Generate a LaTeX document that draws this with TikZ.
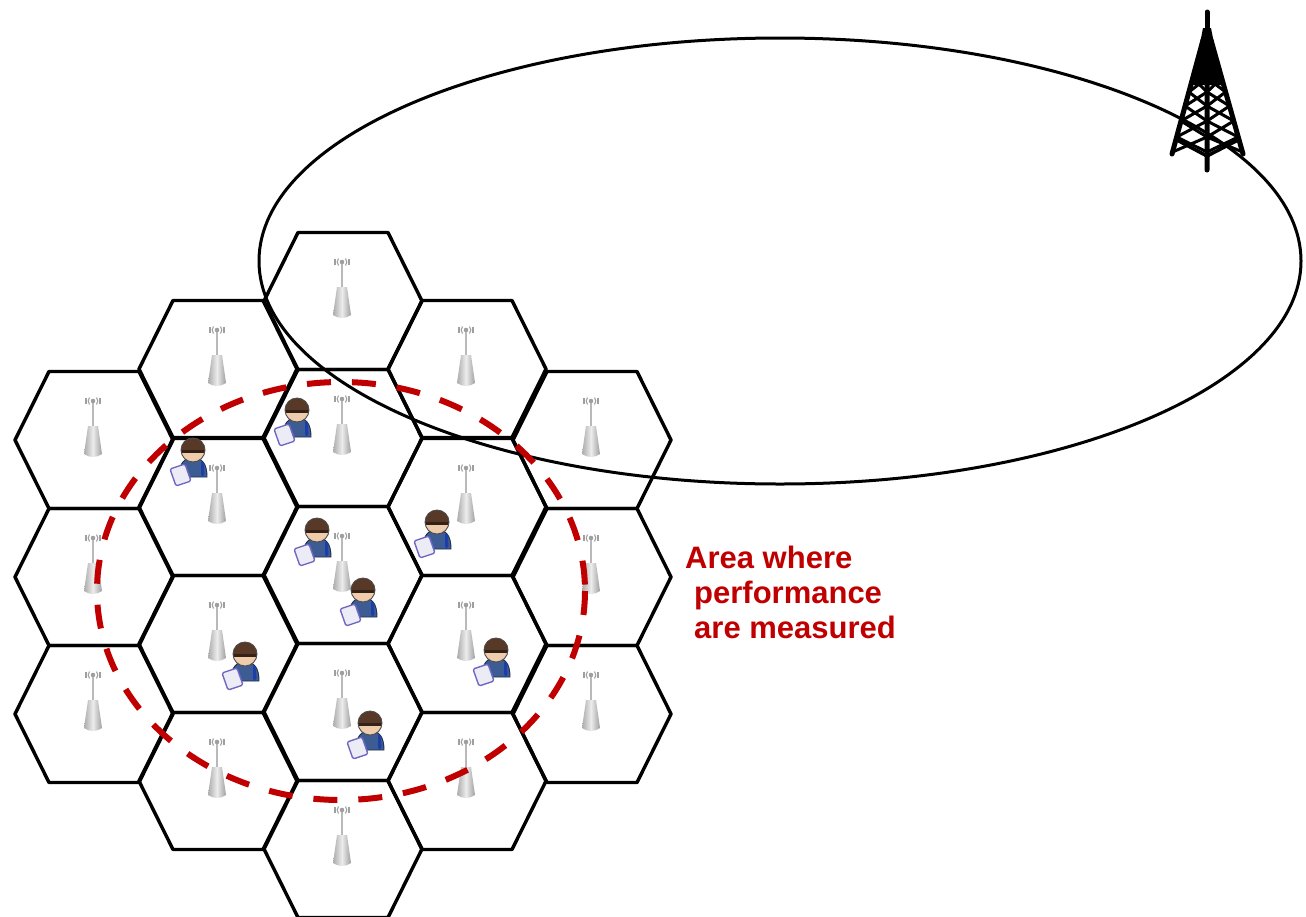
\documentclass[tikz,border=0pt]{standalone}
\usepackage{fontspec}
\setmainfont{Liberation Sans}
\usepackage{tikz}
\usetikzlibrary{positioning}
\definecolor{redline}{RGB}{192,0,0}
\definecolor{suit}{RGB}{62,92,148}
\definecolor{tieblue}{RGB}{28,62,170}
\definecolor{skin}{RGB}{238,204,172}
\definecolor{hair}{RGB}{88,56,38}
\definecolor{padline}{RGB}{112,104,192}
\definecolor{padfill}{RGB}{236,236,246}

\begin{document}
\begin{tikzpicture}[x=1pt,y=-1pt,line join=round,
  cell/.style={line width=3.4},
  zone/.style={redline,line width=6,dash pattern=on 24pt off 21pt},
  area/.style={text=redline,font=\bfseries\fontsize{31}{35}\selectfont,inner sep=0pt,anchor=base west},
  antenna/.pic={
    \draw[gray!55,line width=1.5] (-1,-37) -- (-1,-14);
    \fill[gray!75] (-1,-39) circle (2.3);
    \draw[gray!75,line width=1.3] (-8,-42) -- (-8,-36) (6,-42) -- (6,-36);
    \draw[gray!75,line width=1.1] (-4.5,-42.5) to[bend right=40] (-4.5,-35.5)
      (2.5,-42.5) to[bend left=40] (2.5,-35.5);
    \shade[left color=gray!65,right color=gray!75,middle color=gray!15]
      (-6,-14) -- (4,-14) -- (8,14) to[bend left=35] (-10,14) -- cycle;
  },
  user/.pic={
    \draw[suit!50!black,fill=suit,line width=0.9] (-14,27) .. controls (-14,12) and (-8,8) .. (0,8)
      .. controls (8,8) and (14,12) .. (14,27) -- cycle;
    \fill[tieblue] (8,12) -- (10.5,12) -- (11.5,24) -- (9.5,27) -- (8,24) -- cycle;
    \draw[padline,fill=padfill,line width=1.4,rounded corners=1.5]
      (-23,19) -- (-8,14) -- (-2,31) -- (-17,36) -- cycle;
    \fill[skin] (0,0) circle (12);
    \begin{scope}
      \clip (0,0) circle (12);
      \fill[hair] (-13,-13) rectangle (13,2);
      \fill[hair!60!black] (-13,0) rectangle (13,3);
    \end{scope}
    \draw[black!70,line width=0.9] (0,0) circle (12);
  }]
\useasboundingbox (0,0) rectangle (1306,916);

\foreach \x/\y in {94/440,94/577,94/714,
    218/369,218/507,218/644,218/781,
    343/301,343/438,343/575,343/712,343/849,
    467/369,467/507,467/644,467/781,
    592/440,592/577,592/714}{
  \draw[cell] (\x-79,\y) -- (\x-45,\y-68.5) -- (\x+45,\y-68.5) -- (\x+79,\y)
    -- (\x+45,\y+68.5) -- (\x-45,\y+68.5) -- cycle;
  \pic at (\x,\y) {antenna};
}

\draw[line width=3] (780,261) ellipse [x radius=521, y radius=223];
\draw[zone] (341,591) ellipse [x radius=244, y radius=209];

\foreach \x/\y in {297/410,193/450,317/530,363/590,437/522,245/654,496/650,370/723}
  \pic at (\x,\y) {user};

\begin{scope}[line cap=round]
  \draw[line width=5] (1207,12) -- (1207,45);
  \fill (1203,28) -- (1211,28) -- (1222,85) -- (1192,85) -- cycle;
  \draw[line width=5] (1203,40) -- (1172,154) (1211,40) -- (1243,154) (1207,40) -- (1207,170);
  \foreach \a/\b in {78/92,92/106,106/121,121/137,137/152}{
    \draw[line width=3] ({1203-31*(\a-40)/114},\a) -- (1207,\b) ({1203-31*(\b-40)/114},\b) -- (1207,\a);
    \draw[line width=3] ({1211+32*(\a-40)/114},\a) -- (1207,\b) ({1211+32*(\b-40)/114},\b) -- (1207,\a);
  }
  \draw[line width=3.5] (1177,140) -- (1207,156) -- (1238,140);
\end{scope}

\node[area] (l1) at (685,568) {Area where};
\node[area] (l2) at (694,603) {performance};
\node[area] (l3) at (694,638) {are measured};
\end{tikzpicture}
\end{document}
